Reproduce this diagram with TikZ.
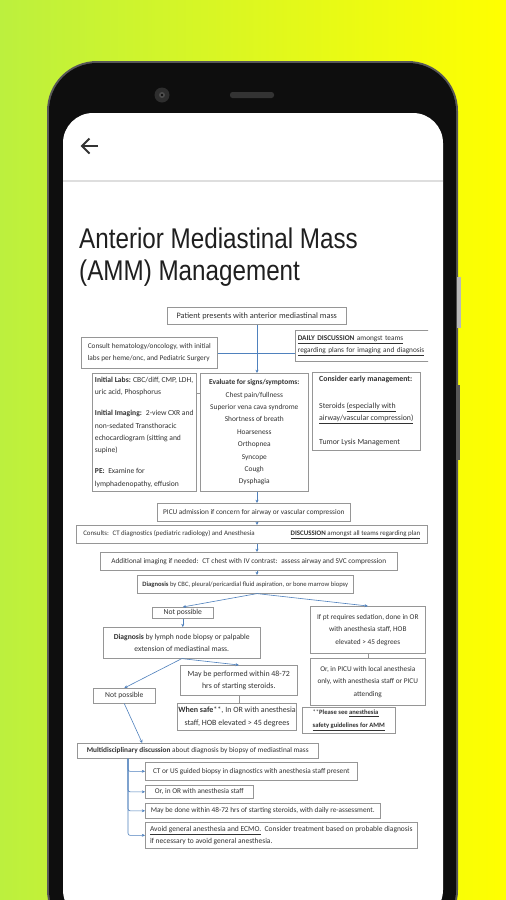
\documentclass[tikz,border=0pt]{standalone}
\usepackage{fontspec}
\usepackage{graphicx}
\setmainfont{Liberation Sans}
\newfontfamily\scanfont{Carlito}
\usetikzlibrary{arrows.meta,calc}
\definecolor{bgleft}{RGB}{188,240,62}
\definecolor{bgright}{RGB}{255,255,0}
\definecolor{phone}{RGB}{14,14,14}
\definecolor{rim}{RGB}{88,88,88}
\definecolor{boxline}{RGB}{150,150,150}
\definecolor{linkblue}{RGB}{79,129,189}
\definecolor{scantext}{RGB}{50,50,50}
\begin{document}
\begin{tikzpicture}[x=1pt,y=-1pt,
	scan/.style={font=\scanfont\fontsize{#1}{12.4}\selectfont},
	box/.style={draw=boxline,line width=.6pt,fill=white,anchor=north west,inner sep=1pt,scan=7.3,text=scantext,align=center},
	link/.style={draw=linkblue,line width=.6pt,-{Stealth[length=3.2pt,width=3pt]}},
	tie/.style={draw=linkblue,line width=.6pt},
	greytie/.style={draw=boxline,line width=.5pt}]
	\useasboundingbox (0,0) rectangle (506,900);
	\shade[left color=bgleft,right color=bgright] (0,0) rectangle (506,900);
	% phone body and screen
	\fill[rim,rounded corners=50] (47,61) rectangle (458,940);
	\fill[phone,rounded corners=48] (49,63) rectangle (456,938);
	\fill[gray!55] (457,277) rectangle (460.5,328);
	\fill[rim] (456,385) rectangle (460,460);
	\fill[black!82] (162,95) circle (7.5);
	\fill[black!70] (162,95) circle (3);
	\fill[black] (162,95) circle (1.2);
	\fill[black!80,rounded corners=2.5] (230,92) rectangle (274,98);
	\fill[white,rounded corners=30] (63,113) rectangle (443,920);
	\draw[black!80,line width=1.8pt] (98,146)--(82.5,146);
	\draw[black!80,line width=1.8pt] (89.5,138.5)--(82,146)--(89.5,153.5);
	\fill[black!13] (63,180) rectangle (443,182);
	\node[anchor=base west,text=black!88,font=\fontsize{28.5}{32}\selectfont,inner sep=0] (title1) at (79,248) {\scalebox{.85}[1]{Anterior Mediastinal Mass}};
	\node[anchor=base west,text=black!88,font=\fontsize{28.5}{32}\selectfont,inner sep=0] (title2) at (79,280) {\scalebox{.85}[1]{(AMM) Management}};
	% flowchart
	\node[box,scan=8.3,minimum width=179,minimum height=17] (pat) at (167,307) {Patient presents with anterior mediastinal mass};
	\node[box,minimum width=136,minimum height=31,align=left] (cons) at (81,337) {Consult hematology/oncology, with initial\\labs per heme/onc, and Pediatric Surgery};
	\begin{scope}
		\clip (0,0) rectangle (428,900);
		\node[box,text width=140,inner xsep=2.5pt,minimum height=31,align=left] (daily) at (295,330) {\underline{\textbf{DAILY DISCUSSION} amongst teams}\\\underline{regarding plans for imaging and diagnosis}};
	\end{scope}
	\node[box,scan=7.6,minimum width=104,minimum height=118,align=left] (labs) at (92,373) {\textbf{Initial Labs:} CBC/diff, CMP, LDH,\\uric acid, Phosphorus\\[8.5pt]\textbf{Initial Imaging:}~ 2-view CXR and\\non-sedated Transthoracic\\echocardiogram (sitting and\\supine)\\[8.5pt]\textbf{PE:}~ Examine for\\lymphadenopathy, effusion};
	\node[box,scan=7.4,minimum width=108,minimum height=118] (eval) at (200,373) {\textbf{Evaluate for signs/symptoms:}\\Chest pain/fullness\\Superior vena cava syndrome\\Shortness of breath\\Hoarseness\\Orthopnea\\Syncope\\Cough\\Dysphagia};
	\node[box,scan=7.8,minimum width=108,minimum height=78,align=left] (early) at (312,372) {\textbf{Consider early management:}\\[14pt]Steroids \underline{(especially with}\\\underline{airway/vascular compression)}\\[12pt]Tumor Lysis Management};
	\node[box,minimum width=193,minimum height=18] (picu) at (157,503) {PICU admission if concern for airway or vascular compression};
	\node[box,scan=6.9,minimum width=351,minimum height=18] (cons2) at (76,525) {Consults:~ CT diagnostics (pediatric radiology) and Anesthesia\hspace{36pt}\underline{\textbf{DISCUSSION} amongst all teams regarding plan}};
	\node[box,minimum width=297,minimum height=18] (add) at (100,552) {Additional imaging if needed:~ CT chest with IV contrast:~ assess airway and SVC compression};
	\node[box,scan=6.6,minimum width=216,minimum height=18] (diag) at (137,575) {\textbf{Diagnosis} by CBC, pleural/pericardial fluid aspiration, or bone marrow biopsy};
	\node[box,scan=7.6,minimum width=61,minimum height=11] (np1) at (152,607) {Not possible};
	\node[box,scan=7.6,minimum width=157,minimum height=31] (lymph) at (103,627) {\textbf{Diagnosis} by lymph node biopsy or palpable\\extension of mediastinal mass.};
	\node[box,minimum width=115,minimum height=47] (sed) at (310,606) {If pt requires sedation, done in OR\\with anesthesia staff, HOB\\elevated > 45 degrees};
	\node[box,minimum width=115,minimum height=47] (picu2) at (310,658) {Or, in PICU with local anesthesia\\only, with anesthesia staff or PICU\\attending};
	\node[box,scan=7.9,minimum width=117,minimum height=30] (may) at (180,665) {May be performed within 48-72\\hrs of starting steroids.};
	\node[box,scan=8,minimum width=118,minimum height=27] (safe) at (177,703) {\textbf{When safe}**, In OR with anesthesia\\staff, HOB elevated > 45 degrees};
	\node[box,scan=6.6,minimum width=93,minimum height=26,align=left] (see) at (302,707) {**\textbf{Please see \underline{anesthesia}}\\\textbf{\underline{safety guidelines for AMM}}};
	\node[box,scan=7.6,minimum width=62,minimum height=15] (np2) at (93,688) {Not possible};
	\node[box,minimum width=241,minimum height=15] (multi) at (77,743) {\textbf{Multidisciplinary discussion} about diagnosis by biopsy of mediastinal mass};
	\node[box,minimum width=212,minimum height=18] (cta) at (145,762) {CT or US guided biopsy in diagnostics with anesthesia staff present};
	\node[box,minimum width=108,minimum height=13] (orb) at (145,785) {Or, in OR with anesthesia staff};
	\node[box,minimum width=235,minimum height=15] (stb) at (145,803) {May be done within 48-72 hrs of starting steroids, with daily re-assessment.};
	\node[box,scan=7.5,minimum width=272,minimum height=26,align=left] (avd) at (145,822) {\underline{Avoid general anesthesia and ECMO.}~ Consider treatment based on probable diagnosis\\if necessary to avoid general anesthesia.};
	% connectors
	\coordinate (spine) at (257,0);
	\draw[link] (pat.south -| spine)--(eval.north -| spine);
	\draw[tie] (cons.east)--(cons.east -| daily.west);
	\draw[greytie] ($(labs.north east)+(0,20)$)--($(eval.north west)+(0,20)$);
	\draw[link] (eval.south -| spine)--(picu.north -| spine);
	\draw[link] (picu.south -| spine)--(cons2.north -| spine);
	\draw[link] (cons2.south -| spine)--(add.north -| spine);
	\draw[link] (add.south -| spine)--(diag.north -| spine);
	\draw[link] (diag.south -| spine)--(np1.north);
	\draw[link] (diag.south -| spine)--(sed.north);
	\draw[link] (np1.south)--(np1.south |- lymph.north);
	\draw[link] (lymph.south)--(np2.north);
	\draw[link] (lymph.south)--(may.north);
	\draw[greytie] (sed.south)--(picu2.north);
	\draw[greytie] (may.south)--(may.south |- safe.north);
	\draw[link] (np2.south)--($(multi.north west)!.27!(multi.north east)$);
	\coordinate (trunk) at ($(multi.south west)+(51,0)$);
	\foreach \b in {cta,orb,stb,avd}
		\draw[link,rounded corners=2] (trunk) |- (\b.west);
\end{tikzpicture}
\end{document}
